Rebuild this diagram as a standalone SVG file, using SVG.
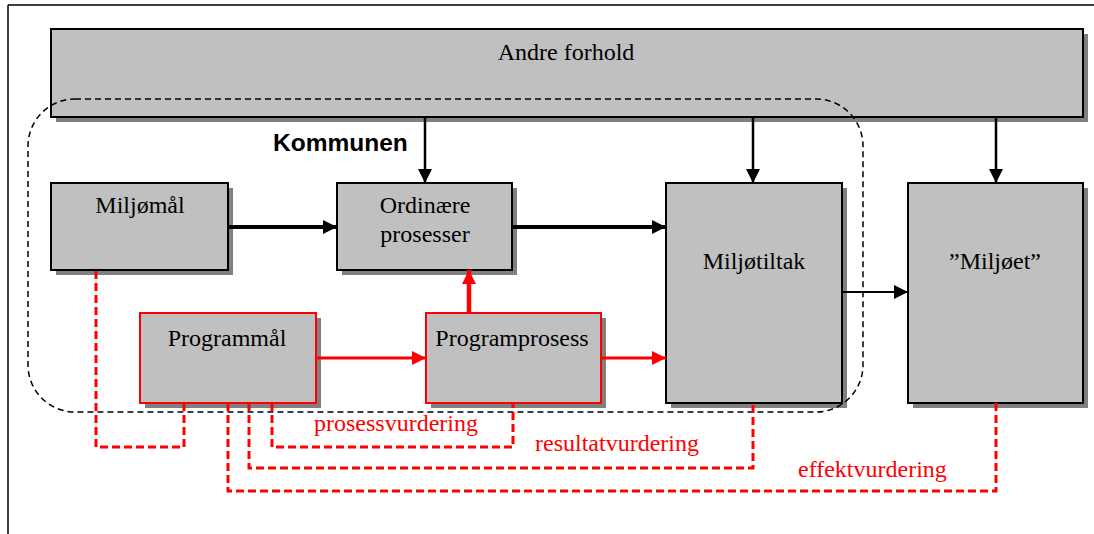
<svg xmlns="http://www.w3.org/2000/svg" width="1094" height="534" viewBox="0 0 1094 534">
<style>
.box{fill:#c0c0c0;stroke:#000;stroke-width:2}
.rbox{fill:#c0c0c0;stroke:#ff0000;stroke-width:2}
.sh{fill:#808080}
.t{font-family:"Liberation Serif","Times New Roman",serif;font-size:24px;fill:#000;text-anchor:middle}
.rt{font-family:"Liberation Serif","Times New Roman",serif;font-size:24px;fill:#ff0000}
.k{font-family:"Liberation Sans",Arial,sans-serif;font-size:24.5px;font-weight:bold;fill:#000}
.rd{fill:none;stroke:#ff0000;stroke-width:3;stroke-dasharray:8 4}
</style>
<defs>
<marker id="ab" markerUnits="userSpaceOnUse" markerWidth="14" markerHeight="14" refX="14" refY="7" orient="auto"><path d="M0,0 L14,7 L0,14 z" fill="#000"/></marker>
<marker id="ar" markerUnits="userSpaceOnUse" markerWidth="14" markerHeight="14" refX="14" refY="7" orient="auto"><path d="M0,0 L14,7 L0,14 z" fill="#ff0000"/></marker>
</defs>
<rect width="1094" height="534" fill="#fff"/>
<g id="frame" stroke="#000" stroke-width="1.5" fill="none">
<line x1="8" y1="5" x2="1094" y2="5"/>
<line x1="8" y1="5" x2="8" y2="534"/>
</g>
<g id="andre">
<rect class="sh" x="56" y="34" width="1032" height="88"/>
<rect class="box" x="51" y="29" width="1032" height="88"/>
<text class="t" x="566" y="60">Andre forhold</text>
</g>
<g id="miljomal">
<rect class="sh" x="56" y="188" width="177" height="87"/>
<rect class="box" x="51" y="183" width="177" height="87"/>
<text class="t" x="140" y="213">Miljømål</text>
</g>
<g id="ordinare">
<rect class="sh" x="342" y="188" width="175" height="87"/>
<rect class="box" x="337" y="183" width="175" height="87"/>
<text class="t" x="425" y="213">Ordinære</text>
<text class="t" x="425" y="242">prosesser</text>
</g>
<g id="miljotiltak">
<rect class="sh" x="671" y="188" width="176" height="220"/>
<rect class="box" x="666" y="183" width="176" height="220"/>
<text class="t" x="754" y="269">Miljøtiltak</text>
</g>
<g id="miljoet">
<rect class="sh" x="913" y="188" width="175" height="220"/>
<rect class="box" x="908" y="183" width="175" height="220"/>
<text class="t" x="995" y="269">”Miljøet”</text>
</g>
<g id="programmal">
<rect class="sh" x="145" y="318" width="176" height="90"/>
<rect class="rbox" x="140" y="313" width="176" height="90"/>
<text class="t" x="227" y="346">Programmål</text>
</g>
<g id="programprosess">
<rect class="sh" x="431" y="318" width="175" height="90"/>
<rect class="rbox" x="426" y="313" width="175" height="90"/>
<text class="t" x="512" y="346">Programprosess</text>
</g>
<g id="kommunen">
<rect x="28" y="99" width="835" height="313" rx="47" ry="47" fill="none" stroke="#000" stroke-width="1.5" stroke-dasharray="6 4"/>
<text class="k" x="273" y="151">Kommunen</text>
</g>
<g id="connectors">
<line x1="228" y1="227" x2="337" y2="227" stroke="#000" stroke-width="4" marker-end="url(#ab)"/>
<line x1="512" y1="227" x2="666" y2="227" stroke="#000" stroke-width="4" marker-end="url(#ab)"/>
<line x1="425" y1="117" x2="425" y2="183" stroke="#000" stroke-width="2.5" marker-end="url(#ab)"/>
<line x1="753" y1="117" x2="753" y2="183" stroke="#000" stroke-width="2.5" marker-end="url(#ab)"/>
<line x1="996" y1="117" x2="996" y2="183" stroke="#000" stroke-width="2.5" marker-end="url(#ab)"/>
<line x1="842" y1="292" x2="908" y2="292" stroke="#000" stroke-width="2" marker-end="url(#ab)"/>
<line x1="316" y1="358" x2="426" y2="358" stroke="#ff0000" stroke-width="3" marker-end="url(#ar)"/>
<line x1="601" y1="358" x2="666" y2="358" stroke="#ff0000" stroke-width="3" marker-end="url(#ar)"/>
<line x1="469" y1="313" x2="469" y2="270" stroke="#ff0000" stroke-width="4.5" marker-end="url(#ar)"/>
<polyline class="rd" points="96,271 96,447 184,447 184,403"/>
<polyline class="rd" points="272,403 272,447 513,447 513,403"/>
<polyline class="rd" points="249,403 249,468 753,468 753,403"/>
<polyline class="rd" points="228,403 228,491 996,491 996,403"/>
</g>
<g id="labels">
<text class="rt" x="314" y="431">prosessvurdering</text>
<text class="rt" x="535" y="451">resultatvurdering</text>
<text class="rt" x="798" y="477">effektvurdering</text>
</g>
</svg>
